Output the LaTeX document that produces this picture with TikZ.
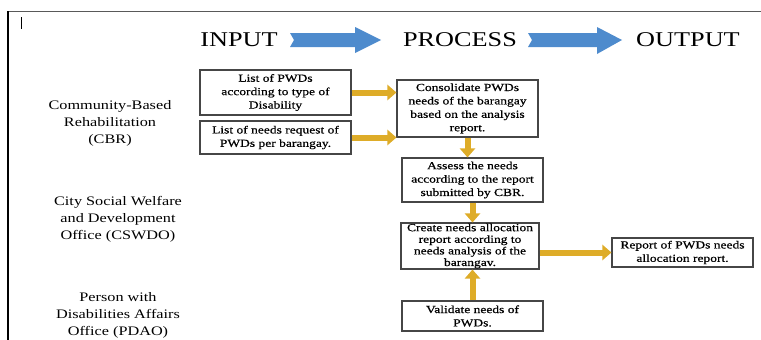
\documentclass[tikz,border=0pt]{standalone}
\usepackage{fontspec}
\setmainfont{Liberation Serif}[FakeStretch=1.25]
\newfontfamily\boxfont{Liberation Serif}[FakeStretch=1.25,FakeBold=0.6]
\usetikzlibrary{arrows.meta,calc}
\definecolor{arrowblue}{RGB}{78,139,205}
\definecolor{gold}{RGB}{222,172,40}
\definecolor{boxline}{RGB}{70,70,70}
\begin{document}
\begin{tikzpicture}[x=1pt,y=-1pt,
  boxnode/.style={draw=boxline,line width=1.1pt,fill=white,align=center,inner sep=0pt,
    font=\boxfont\fontsize{10.8}{13.4}\selectfont},
  orglabel/.style={align=center,inner sep=0pt,font=\fontsize{13}{17}\selectfont},
  titlelabel/.style={inner sep=0pt,font=\fontsize{21}{24}\selectfont},
  goldarrow/.style={draw=gold,line width=6pt,-{Triangle[width=15pt,length=9pt]}},
  bluearrow/.style={fill=arrowblue,draw=none}]
\useasboundingbox (0,0) rectangle (761,340);
% frame
\draw[line width=0.9pt,black!65] (8,11) -- (761,11);
\draw[line width=1.1pt,black] (8,11) -- (8,340);
\draw[line width=0.8pt,black] (21,17) -- (21,29);
% titles
\node[titlelabel] (tin) at (239,40) {INPUT};
\node[titlelabel] (tproc) at (460,40) {PROCESS};
\node[titlelabel] (tout) at (688,40) {OUTPUT};
% blue arrows
\fill[bluearrow] (290,33) -- (355,33) -- (355,27) -- (381,40) -- (355,53) -- (355,47) -- (290,47) -- (294,40) -- cycle;
\fill[bluearrow] (528,33) -- (597,33) -- (597,27) -- (622,40) -- (597,54) -- (597,47) -- (528,47) -- (532,40) -- cycle;
% organisation labels
\node[orglabel] (cbr) at (110,123) {Community-Based\\Rehabilitation\\(CBR)};
\node[orglabel] (cswdo) at (118,219) {City Social Welfare\\and Development\\Office (CSWDO)};
\node[orglabel] (pdao) at (118,315) {Person with\\Disabilities Affairs\\Office (PDAO)};
% boxes
\node[boxnode,minimum width=151pt,minimum height=45pt] (in1) at (275.5,92.5) {List of PWDs\\according to type of\\Disability};
\node[boxnode,minimum width=151pt,minimum height=33pt] (in2) at (275.5,137.5) {List of needs request of\\PWDs per barangay.};
\node[boxnode,minimum width=141pt,minimum height=57pt] (p1) at (467.5,108.5) {Consolidate PWDs\\needs of the barangay\\based on the analysis\\report.};
\node[boxnode,minimum width=141pt,minimum height=44pt] (p2) at (472.5,180) {Assess the needs\\according to the report\\submitted by CBR.};
\node[boxnode,minimum width=138pt,minimum height=46pt,font=\boxfont\fontsize{10.8}{11.6}\selectfont] (p3) at (470,246) {Create needs allocation\\report according to\\needs analysis of the\\barangav.};
\node[boxnode,minimum width=141pt,minimum height=30pt] (val) at (472.5,316) {Validate needs of\\PWDs.};
\node[boxnode,minimum width=141pt,minimum height=29pt] (out) at (682.5,252.5) {Report of PWDs needs\\allocation report.};
% gold connectors
\draw[goldarrow] (in1.east) -- (p1.west |- in1.east);
\draw[goldarrow] (in2.east) -- (p1.west |- in2.east);
\draw[goldarrow] (p1.south) -- (p1.south |- p2.north);
\draw[goldarrow] (p2.south) -- (p2.south |- p3.north);
\draw[goldarrow] (val.north) -- (val.north |- p3.south);
\draw[goldarrow] (p3.east |- out.west) -- (out.west);
\end{tikzpicture}
\end{document}
